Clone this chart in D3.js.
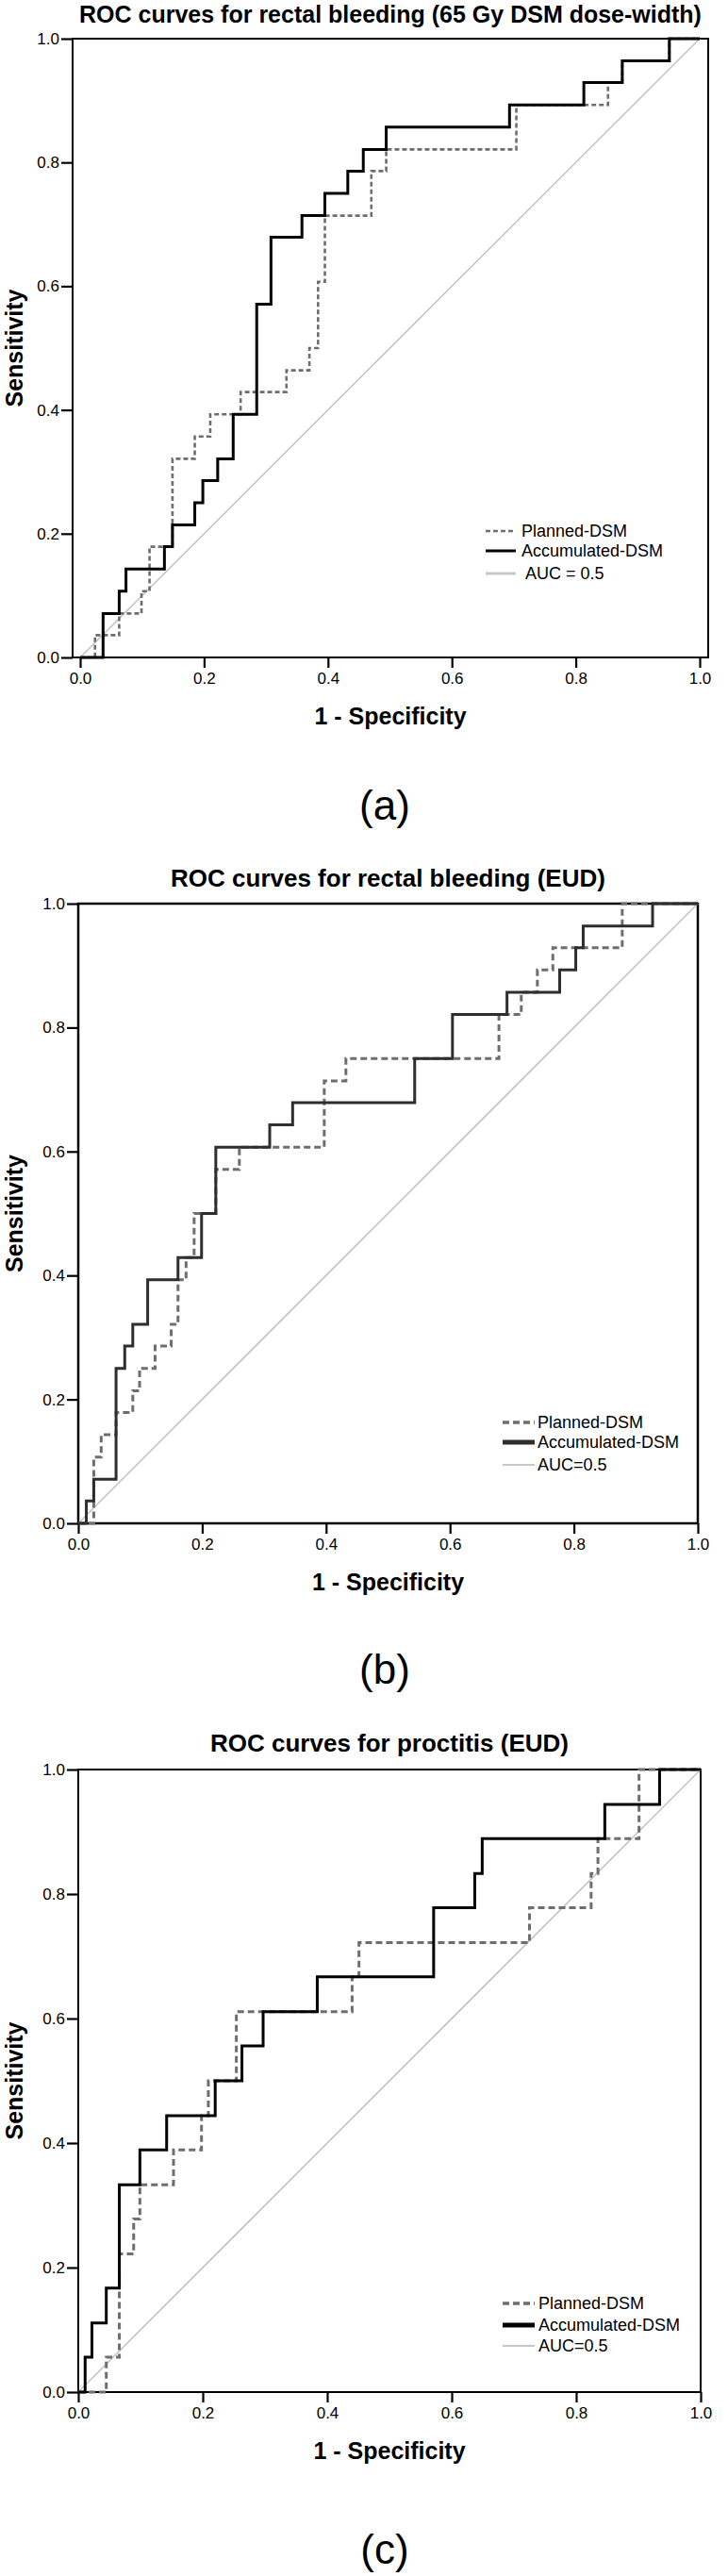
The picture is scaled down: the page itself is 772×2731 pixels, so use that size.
<!DOCTYPE html>
<html><head><meta charset="utf-8">
<script src="https://cdn.jsdelivr.net/npm/d3@7"></script>
<style>
body{margin:0;background:#fff}
svg{display:block}
text{font-family:"Liberation Sans",Arial,sans-serif}
</style>
</head><body>
<svg id="chart" width="772" height="2731"></svg>
<script>
// ---------- data ----------
const tickValues = [0, 0.2, 0.4, 0.6, 0.8, 1.0];
const titles = [
  "ROC curves for rectal bleeding (65 Gy DSM dose-width)",
  "ROC curves for rectal bleeding (EUD)",
  "ROC curves for proctitis (EUD)"
];
const xAxisLabel = "1 - Specificity";
const yAxisLabel = "Sensitivity";
const seriesNames = ["Planned-DSM", "Accumulated-DSM"];
const refLabels = [" AUC = 0.5", "AUC=0.5", "AUC=0.5"];
const captions = ["(a)", "(b)", "(c)"];

// ROC vertices [1 - specificity, sensitivity]
const aPlanned = [[0,0],[0.024,0.036],[0.063,0.071],[0.099,0.107],[0.112,0.179],[0.149,0.321],[0.185,0.357],[0.21,0.393],[0.259,0.429],[0.333,0.464],[0.37,0.5],[0.384,0.607],[0.395,0.714],[0.47,0.786],[0.494,0.821],[0.704,0.893],[0.852,0.929],[0.875,0.964],[0.951,1],[1,1]];
const aAccumulated = [[0,0],[0.037,0.071],[0.063,0.107],[0.074,0.143],[0.136,0.179],[0.149,0.214],[0.185,0.25],[0.198,0.286],[0.222,0.321],[0.247,0.393],[0.285,0.571],[0.308,0.679],[0.358,0.714],[0.395,0.75],[0.432,0.786],[0.457,0.821],[0.494,0.857],[0.693,0.893],[0.813,0.929],[0.875,0.964],[0.951,1],[1,1]];

const bPlanned = [[0,0],[0.025,0.107],[0.037,0.143],[0.061,0.179],[0.088,0.214],[0.099,0.25],[0.124,0.286],[0.15,0.321],[0.161,0.393],[0.174,0.429],[0.187,0.5],[0.222,0.571],[0.26,0.607],[0.397,0.714],[0.432,0.75],[0.679,0.821],[0.715,0.857],[0.741,0.893],[0.766,0.929],[0.878,1],[1,1]];
const bAccumulated = [[0,0],[0.013,0.036],[0.025,0.071],[0.061,0.25],[0.075,0.286],[0.088,0.321],[0.112,0.393],[0.161,0.429],[0.199,0.5],[0.222,0.607],[0.309,0.643],[0.346,0.679],[0.543,0.75],[0.604,0.821],[0.692,0.857],[0.777,0.893],[0.803,0.929],[0.815,0.964],[0.927,1],[1,1]];

const cPlanned = [[0,0],[0.045,0.056],[0.066,0.222],[0.089,0.278],[0.099,0.333],[0.153,0.389],[0.198,0.444],[0.209,0.5],[0.254,0.611],[0.44,0.667],[0.451,0.722],[0.725,0.778],[0.824,0.833],[0.835,0.889],[0.901,1],[1,1]];
const cAccumulated = [[0,0],[0.011,0.056],[0.022,0.111],[0.045,0.167],[0.066,0.333],[0.099,0.389],[0.142,0.444],[0.22,0.5],[0.263,0.556],[0.297,0.611],[0.384,0.667],[0.571,0.778],[0.637,0.833],[0.649,0.889],[0.846,0.944],[0.934,1],[1,1]];

const referenceLine = [[0,0],[1,1]];

// ---------- layout / style ----------
const panels = [
  {planned:aPlanned, acc:aAccumulated, frame:{l:77,t:41,r:751,b:697}, xr:[85,742], frameW:2,
   solid:"#000", solidW:3, dashW:2.6, dash:"5,3", titleY:24, titleSize:25,
   legX:[515,547,553], legY:[563,584,608], legW:[2.6,3,3], capY:869},
  {planned:bPlanned, acc:bAccumulated, frame:{l:83,t:958,r:740,b:1615}, xr:[83,740], frameW:2.5,
   solid:"#2e2e2e", solidW:3, dashW:3, dash:"7,4", titleY:940, titleSize:26,
   legX:[533,567,570], legY:[1508,1529,1553], legW:[3.5,5,2], capY:1785},
  {planned:cPlanned, acc:cAccumulated, frame:{l:83,t:1876,r:743,b:2536}, xr:[83,743], frameW:2,
   solid:"#000", solidW:3, dashW:3, dash:"7,4", titleY:1857, titleSize:26,
   legX:[533,567,571], legY:[2442,2465,2487], legW:[3.5,5,2], capY:2718}
];

const svg = d3.select("#chart");
svg.append("rect").attr("width",772).attr("height",2731).attr("fill","#fff");

panels.forEach((p, i) => {
  const f = p.frame;
  const x = d3.scaleLinear().domain([0,1]).range(p.xr);
  const y = d3.scaleLinear().domain([0,1]).range([f.b, f.t]);
  const g = svg.append("g");
  const cx = (f.l + f.r) / 2;

  // title
  g.append("text").attr("x", cx).attr("y", p.titleY)
    .attr("text-anchor","middle").attr("font-size",p.titleSize).attr("font-weight","bold")
    .text(titles[i]);

  // axes
  const xa = g.append("g").attr("transform",`translate(0,${f.b})`)
    .call(d3.axisBottom(x).tickValues(tickValues).tickFormat(d3.format(".1f")).tickSize(11).tickPadding(5));
  const ya = g.append("g").attr("transform",`translate(${f.l},0)`)
    .call(d3.axisLeft(y).tickValues(tickValues).tickFormat(d3.format(".1f")).tickSize(12).tickPadding(2));
  [xa, ya].forEach(a => {
    a.select(".domain").remove();
    a.selectAll("line").attr("stroke","#000").attr("stroke-width",2.2);
    a.selectAll("text").attr("font-size",17).attr("fill","#000")
      .attr("font-family","Liberation Sans, Arial, sans-serif");
  });

  // frame
  g.append("rect").attr("x",f.l).attr("y",f.t).attr("width",f.r-f.l).attr("height",f.b-f.t)
    .attr("fill","none").attr("stroke","#000").attr("stroke-width",p.frameW);

  // axis labels
  g.append("text").attr("x", cx).attr("y", f.b + 71)
    .attr("text-anchor","middle").attr("font-size",25).attr("font-weight","bold").text(xAxisLabel);
  g.append("text").attr("transform",`translate(24,${(f.t+f.b)/2}) rotate(-90)`)
    .attr("text-anchor","middle").attr("font-size",25).attr("font-weight","bold").text(yAxisLabel);

  const line = d3.line().x(d => x(d[0])).y(d => y(d[1]));
  const step = d3.line().curve(d3.curveStepAfter).x(d => x(d[0])).y(d => y(d[1]));

  g.append("path").attr("d", line(referenceLine)).attr("fill","none")
    .attr("stroke","#c4c4c4").attr("stroke-width",1.6);
  g.append("path").attr("d", step(p.planned)).attr("fill","none")
    .attr("stroke","#6e6e6e").attr("stroke-width",p.dashW).attr("stroke-dasharray",p.dash);
  g.append("path").attr("d", step(p.acc)).attr("fill","none")
    .attr("stroke",p.solid).attr("stroke-width",p.solidW);

  // legend
  const leg = [
    {label:seriesNames[0], stroke:"#6e6e6e", dash:p.dash, w:p.legW[0]},
    {label:seriesNames[1], stroke:p.solid, dash:null, w:p.legW[1]},
    {label:refLabels[i], stroke:"#c8c8c8", dash:null, w:p.legW[2]}
  ];
  leg.forEach((d, k) => {
    const ly = p.legY[k];
    g.append("line").attr("x1",p.legX[0]).attr("x2",p.legX[1]).attr("y1",ly).attr("y2",ly)
      .attr("stroke",d.stroke).attr("stroke-width",d.w).attr("stroke-dasharray",d.dash);
    g.append("text").attr("x",p.legX[2]).attr("y",ly).attr("dy","0.36em")
      .attr("font-size",18).attr("fill","#000").style("white-space","pre").text(d.label);
  });

  // caption
  g.append("text").attr("x",408).attr("y",p.capY).attr("text-anchor","middle")
    .attr("font-family","Liberation Serif, Times New Roman, serif").attr("font-size",44)
    .text(captions[i]);
});
</script>
</body></html>
